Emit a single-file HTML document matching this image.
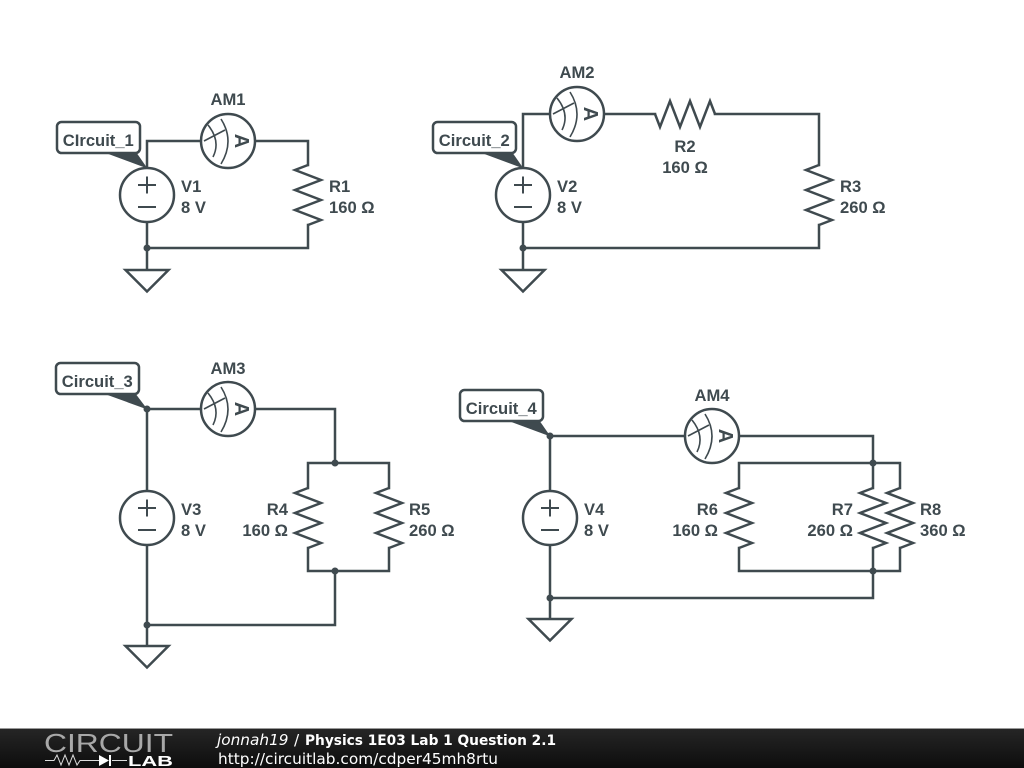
<!DOCTYPE html>
<html>
<head>
<meta charset="utf-8">
<style>
html,body{margin:0;padding:0;background:#fff;width:1024px;height:768px;overflow:hidden}
svg{display:block;position:absolute;left:0;top:0}
.w{fill:none;stroke:#3f4a4f;stroke-width:2.5;stroke-linejoin:miter;stroke-linecap:square}
.t{font-family:"Liberation Sans",sans-serif;font-weight:700;font-size:16.6px;fill:#3f4a4f}
.f{font-family:"DejaVu Sans",sans-serif;font-size:15.3px;fill:#fff}
</style>
</head>
<body>
<svg width="1024" height="768" viewBox="0 0 1024 768" xmlns="http://www.w3.org/2000/svg">
<defs>
<g id="src">
  <circle r="27" fill="#fff" stroke="#3f4a4f" stroke-width="2.5"/>
  <path d="M-9-10H9M0-18.500V-1.500M-9 12H9" fill="none" stroke="#3f4a4f" stroke-width="2"/>
</g>
<g id="am">
  <circle r="27" fill="#fff" stroke="#3f4a4f" stroke-width="2.5"/>
  <path d="M-20-16Q-7 0-15 16M-7-22Q7 0-7 23M-24 0L-3-11" fill="none" stroke="#3f4a4f" stroke-width="1.6"/>
  <text class="t" transform="translate(6,0) rotate(90)" text-anchor="middle" y="-1" style="font-size:20px">A</text>
</g>
<path id="rv" d="M0-30L-13-25L13-15L-13-5L13 5L-13 15L13 25L0 30" fill="none" stroke="#3f4a4f" stroke-width="2.5"/>
<path id="rh" d="M-30 0L-25 13L-15-13L-5 13L5-13L15 13L25-13L30 0" fill="none" stroke="#3f4a4f" stroke-width="2.5"/>
<path id="gnd" d="M0 0H-21.500L0 21.500L21.500 0Z" fill="#fff" stroke="#3f4a4f" stroke-width="2.5"/>
</defs>

<!-- wires -->
<path class="w" d="M147 168V141H308V165M308 225V248H147V222M147 248V270"/>
<path class="w" d="M523 168V114H655M715 114H819V165M819 225V248H523V222M523 248V270"/>
<path class="w" d="M147 491V409H335V463M308 488V463H389V488M308 548V571H389V548M335 571V625H147V545M147 625V646"/>
<path class="w" d="M550 491V436H873V463M739 488V463H900V488M873 463V488M739 548V571H900V548M873 548V598H550V545M550 598V619"/>

<!-- sources -->
<use href="#src" x="147" y="195"/>
<use href="#src" x="523" y="195"/>
<use href="#src" x="147" y="518"/>
<use href="#src" x="550" y="518"/>

<!-- ammeters -->
<use href="#am" x="228" y="141"/>
<use href="#am" x="577" y="114"/>
<use href="#am" x="228" y="409"/>
<use href="#am" x="712" y="436"/>

<!-- resistors -->
<use href="#rv" x="308" y="195"/>
<use href="#rh" x="685" y="114"/>
<use href="#rv" x="819" y="195"/>
<use href="#rv" x="308" y="518"/>
<use href="#rv" x="389" y="518"/>
<use href="#rv" x="739" y="518"/>
<use href="#rv" x="873" y="518"/>
<use href="#rv" x="900" y="518"/>

<!-- grounds -->
<use href="#gnd" x="147" y="270"/>
<use href="#gnd" x="523" y="270"/>
<use href="#gnd" x="147" y="646"/>
<use href="#gnd" x="550" y="619"/>

<!-- junctions -->
<g fill="#3f4a4f">
<circle cx="147" cy="248" r="3.5"/>
<circle cx="523" cy="248" r="3.5"/>
<circle cx="147" cy="409" r="3.5"/>
<circle cx="335" cy="463" r="3.5"/>
<circle cx="335" cy="571" r="3.5"/>
<circle cx="147" cy="625" r="3.5"/>
<circle cx="550" cy="436" r="3.5"/>
<circle cx="873" cy="463" r="3.5"/>
<circle cx="873" cy="571" r="3.5"/>
<circle cx="550" cy="598" r="3.5"/>
</g>

<!-- net labels -->
<g fill="#3f4a4f">
<path d="M103 152L136 152L147.500 168.500Z"/>
<path d="M479 152L512 152L523.500 168.500Z"/>
<path d="M102 393L135 393L147.500 409.500Z"/>
<path d="M506 420L539 420L550.500 436.500Z"/>
</g>
<g fill="#fff" stroke="#3f4a4f" stroke-width="2.5">
<rect x="57" y="122" width="83" height="31" rx="4.5"/>
<rect x="433" y="122" width="83" height="31" rx="4.5"/>
<rect x="56" y="363" width="83" height="31" rx="4.5"/>
<rect x="460" y="390" width="83" height="31" rx="4.5"/>
</g>
<g class="t" text-anchor="middle" transform="translate(0,0.8)">
<text x="98.300" y="145">CIrcuit_1</text>
<text x="474.300" y="145">Circuit_2</text>
<text x="97.300" y="386">Circuit_3</text>
<text x="501.300" y="413">Circuit_4</text>
<text x="228" y="104">AM1</text>
<text x="577" y="77">AM2</text>
<text x="228" y="373">AM3</text>
<text x="712" y="400">AM4</text>
<text x="685" y="151">R2</text>
<text x="685" y="172">160 Ω</text>
</g>
<g class="t" transform="translate(0,0.8)">
<text x="181" y="191">V1</text><text x="181" y="212">8 V</text>
<text x="329" y="191">R1</text><text x="329" y="212">160 Ω</text>
<text x="557" y="191">V2</text><text x="557" y="212">8 V</text>
<text x="840" y="191">R3</text><text x="840" y="212">260 Ω</text>
<text x="181" y="514">V3</text><text x="181" y="535">8 V</text>
<text x="409" y="514">R5</text><text x="409" y="535">260 Ω</text>
<text x="584" y="514">V4</text><text x="584" y="535">8 V</text>
<text x="920" y="514">R8</text><text x="920" y="535">360 Ω</text>
</g>
<g class="t" text-anchor="end" transform="translate(0,0.8)">
<text x="288" y="514">R4</text><text x="288" y="535">160 Ω</text>
<text x="718" y="514">R6</text><text x="718" y="535">160 Ω</text>
<text x="853" y="514">R7</text><text x="853" y="535">260 Ω</text>
</g>

<!-- footer -->
<defs>
<linearGradient id="fg" x1="0" y1="0" x2="0" y2="1">
<stop offset="0" stop-color="#252525"/>
<stop offset="1" stop-color="#0d0d0d"/>
</linearGradient>
</defs>
<rect x="0" y="728" width="1024" height="1" fill="#999"/>
<rect x="0" y="729" width="1024" height="39" fill="url(#fg)"/>
<text x="44" y="752" textLength="129" lengthAdjust="spacingAndGlyphs" font-family="Liberation Sans, sans-serif" font-size="26" fill="#a8a8a8">CIRCUIT</text>
<path d="M45 760.500H54L57 755L61 765L65 755L69 765L73 755L77 765L80 760.500H99M112 760.500H127" fill="none" stroke="#ddd" stroke-width="1"/>
<path d="M99 755L109 760.500L99 766Z" fill="#fff"/>
<path d="M110 755V766" stroke="#fff" stroke-width="2"/>
<text x="128" y="766" textLength="45" lengthAdjust="spacingAndGlyphs" font-family="Liberation Sans, sans-serif" font-weight="700" font-size="15" fill="#fff">LAB</text>
<text class="f" x="217" y="745" style="font-style:italic">jonnah19</text>
<text class="f" x="294" y="745">/</text>
<text class="f" x="305" y="745" textLength="251" lengthAdjust="spacingAndGlyphs" style="font-weight:700;font-size:14px">Physics 1E03 Lab 1 Question 2.1</text>
<text class="f" x="218" y="764" textLength="280" lengthAdjust="spacingAndGlyphs">http://circuitlab.com/cdper45mh8rtu</text>
</svg>
</body>
</html>
